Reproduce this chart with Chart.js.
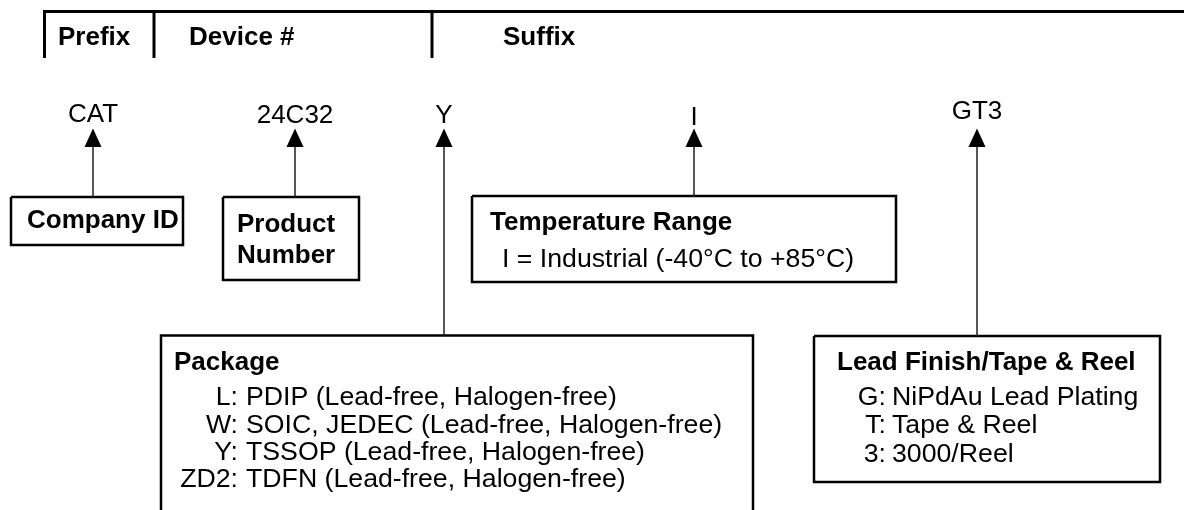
<!DOCTYPE html>
<html>
<head>
<meta charset="utf-8">
<title>CAT24C32 Ordering Information</title>
<script src="https://cdn.jsdelivr.net/npm/chart.js@4/dist/chart.umd.min.js"></script>
<style>
  html, body { margin: 0; padding: 0; background: #fff; }
  #diagrama { display: block; }
</style>
</head>
<body>
<canvas id="diagrama" width="1184" height="510"></canvas>
<script>
// Dados do código de encomenda
const cabecalhos = ['Prefix', 'Device #', 'Suffix'];
const partes = ['CAT', '24C32', 'Y', 'I', 'GT3'];
const titulos = ['Company ID', 'Product\nNumber', 'Package', 'Temperature Range', 'Lead Finish/Tape & Reel'];
const pacoteCodigos = ['L', 'W', 'Y', 'ZD2'];
const pacoteNomes = [
  'PDIP (Lead-free, Halogen-free)',
  'SOIC, JEDEC (Lead-free, Halogen-free)',
  'TSSOP (Lead-free, Halogen-free)',
  'TDFN (Lead-free, Halogen-free)'
];
const tempCodigos = ['I'];
const tempNomes = ['Industrial (-40°C to +85°C)'];
const acabCodigos = ['G', 'T', '3'];
const acabNomes = ['NiPdAu Lead Plating', 'Tape & Reel', '3000/Reel'];

// Layout (unidades dos eixos)
const cabX = [58, 189, 503];
const divisorias = [44.5, 154, 432];
const parteX = [93, 295, 444, 694, 977];
const parteBase = [122, 123, 123, 125, 119];
// caixas: [esq, topo, dir, fundo]; fundo null = aberta em baixo
const caixas = [
  [11, 197, 183, 245],
  [223, 197, 359, 280],
  [161, 335.5, 753, null],
  [472, 196, 896, 282],
  [814, 336, 1160, 482]
];

const preto = '#000';
const familia = '"Liberation Sans", Arial, Helvetica, sans-serif';
const fonteCod = '26px ' + familia;
const fonteReg = '26.7px ' + familia;
const fonteBold = 'bold 26px ' + familia;

function segmento(pts, largura, cor) {
  return {
    type: 'line',
    data: pts.map(p => ({ x: p[0], y: p[1] })),
    borderColor: cor || preto,
    borderWidth: largura,
    borderJoinStyle: 'miter',
    pointRadius: 0,
    fill: false,
    tension: 0,
    clip: false
  };
}

const datasets = [];
// cabeçalho
datasets.push(segmento([[divisorias[0] - 1.5, 11.5], [1184, 11.5]], 3));
divisorias.forEach(x => datasets.push(segmento([[x, 10], [x, 58]], 3)));
// hastes das setas
caixas.forEach((c, i) => {
  datasets.push(segmento([[parteX[i], 140], [parteX[i], c[1]]], 1.5, '#222'));
});
// caixas
caixas.forEach(c => {
  if (c[3] === null) {
    datasets.push(segmento([[c[0], 510], [c[0], c[1]], [c[2], c[1]], [c[2], 510]], 2.5));
  } else {
    datasets.push(segmento([[c[0], c[1]], [c[2], c[1]], [c[2], c[3]], [c[0], c[3]], [c[0], c[1]]], 2.5));
  }
});

const textoPlugin = {
  id: 'textoDiagrama',
  afterDatasetsDraw(chart) {
    const ctx = chart.ctx;
    const sx = v => chart.scales.x.getPixelForValue(v);
    const sy = v => chart.scales.y.getPixelForValue(v);
    ctx.save();
    ctx.fillStyle = preto;
    ctx.textBaseline = 'alphabetic';

    // pontas das setas
    parteX.forEach(x => {
      ctx.beginPath();
      ctx.moveTo(sx(x), sy(128.5));
      ctx.lineTo(sx(x - 8.5), sy(147));
      ctx.lineTo(sx(x + 8.5), sy(147));
      ctx.closePath();
      ctx.fill();
    });

    // cabeçalho
    ctx.font = fonteBold;
    ctx.textAlign = 'left';
    cabecalhos.forEach((t, i) => ctx.fillText(t, sx(cabX[i]), sy(45)));

    // partes do código
    ctx.font = fonteCod;
    ctx.textAlign = 'center';
    partes.forEach((t, i) => ctx.fillText(t, sx(parteX[i]), sy(parteBase[i])));

    // títulos das caixas
    ctx.font = fonteBold;
    ctx.textAlign = 'left';
    ctx.fillText(titulos[0], sx(27), sy(228));
    titulos[1].split('\n').forEach((l, k) => ctx.fillText(l, sx(237), sy(232 + k * 31)));
    ctx.fillText(titulos[2], sx(174), sy(370));
    ctx.fillText(titulos[3], sx(490), sy(230));
    ctx.fillText(titulos[4], sx(837), sy(370));

    // opções
    ctx.font = fonteReg;
    const pacoteBase = [405, 433, 460, 487];
    pacoteCodigos.forEach((c, i) => {
      ctx.textAlign = 'right';
      ctx.fillText(c + ':', sx(238), sy(pacoteBase[i]));
      ctx.textAlign = 'left';
      ctx.fillText(pacoteNomes[i], sx(246), sy(pacoteBase[i]));
    });
    tempCodigos.forEach((c, i) => {
      ctx.textAlign = 'left';
      ctx.fillText(c + ' = ' + tempNomes[i], sx(502), sy(267));
    });
    const acabBase = [405, 433, 462];
    acabCodigos.forEach((c, i) => {
      ctx.textAlign = 'right';
      ctx.fillText(c + ':', sx(886), sy(acabBase[i]));
      ctx.textAlign = 'left';
      ctx.fillText(acabNomes[i], sx(892), sy(acabBase[i]));
    });
    ctx.restore();
  }
};

new Chart(document.getElementById('diagrama'), {
  type: 'scatter',
  data: { datasets: datasets },
  options: {
    responsive: false,
    devicePixelRatio: 1,
    animation: false,
    layout: { padding: 0 },
    plugins: { legend: { display: false }, tooltip: { enabled: false } },
    scales: {
      x: { type: 'linear', min: 0, max: 1184, display: false },
      y: { type: 'linear', min: 0, max: 510, reverse: true, display: false }
    }
  },
  plugins: [textoPlugin]
});
</script>
</body>
</html>
